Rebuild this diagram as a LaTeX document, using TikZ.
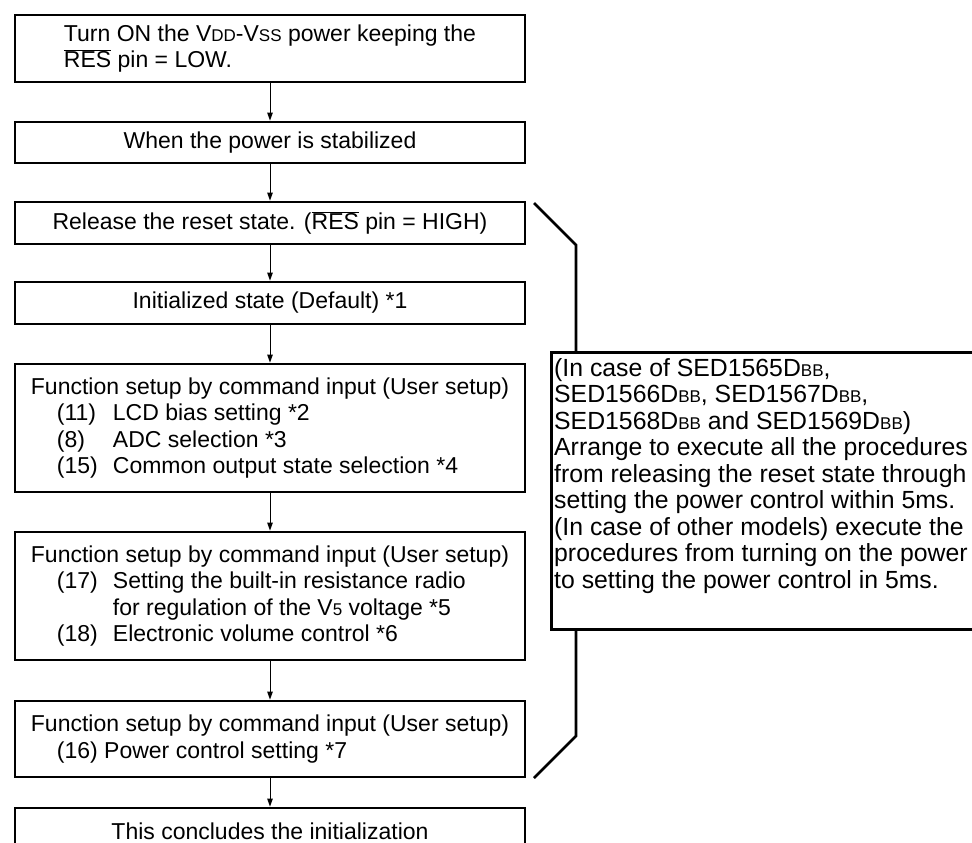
\documentclass[tikz,border=0pt]{standalone}
\usepackage{fontspec}
\setmainfont{Liberation Sans}
\usetikzlibrary{arrows.meta,positioning}

% small capitals used for the subscripts (VDD, DBB, V5)
\newcommand{\sm}[1]{{\fontsize{17}{17}\selectfont #1}}
\newcommand{\resbar}{$\overline{\mbox{RES}}$}
% numbered item inside a setup box
\newcommand{\itm}[2]{\hspace*{26pt}\makebox[56pt][l]{#1}#2}

\begin{document}
\begin{tikzpicture}[x=1pt,y=-1pt,
            box/.style={
                draw,
                line width=2.8pt,
                minimum width=510pt,
                inner sep=0pt,
                align=left,
                font=\fontsize{23}{26.5}\selectfont
            },
            flow/.style={
                -{Triangle[length=8pt,width=5.5pt]},
                line width=1pt
            },
            brace/.style={
                line width=2.8pt
            },
            notebox/.style={
                draw,
                fill=white,
                line width=2.8pt,
                minimum width=435pt,
                minimum height=277pt,
                inner sep=0pt
            },
            notetext/.style={
                align=left,
                inner sep=0pt,
                font=\fontsize{24.8}{26.5}\selectfont
            }
        ]

            % Page size
            \useasboundingbox (0,0) rectangle (972,843);
            \clip (0,0) rectangle (972,843);

            % Flow column x position
            \def\xCol{270}

            % --- Flow boxes ---
            \node[box, minimum height=67pt] (turnon) at (\xCol,48.5)
                {Turn ON the V\sm{DD}-V\sm{SS} power keeping the\\ \resbar{} pin = LOW.};
            \node[box, minimum height=41pt] (stable) at (\xCol,142.5)
                {When the power is stabilized};
            \node[box, minimum height=42pt] (release) at (\xCol,223)
                {Release the reset state. (\resbar{} pin = HIGH)};
            \node[box, minimum height=42pt] (init) at (\xCol,303)
                {Initialized state (Default) *1};
            \node[box, minimum height=128pt] (setupa) at (\xCol,428)
                {Function setup by command input (User setup)\\
                 \itm{(11)}{LCD bias setting *2}\\
                 \itm{(8)}{ADC selection *3}\\
                 \itm{(15)}{Common output state selection *4}};
            \node[box, minimum height=128pt] (setupb) at (\xCol,596)
                {Function setup by command input (User setup)\\
                 \itm{(17)}{Setting the built-in resistance radio}\\
                 \itm{}{for regulation of the V\sm{5} voltage *5}\\
                 \itm{(18)}{Electronic volume control *6}};
            \node[box, minimum height=76pt] (setupc) at (\xCol,739)
                {Function setup by command input (User setup)\\
                 \hspace*{26pt}(16) Power control setting *7};
            \node[box, minimum height=46pt] (done) at (\xCol,831)
                {This concludes the initialization};

            % --- Arrows between boxes ---
            \foreach \a/\b in {turnon/stable,stable/release,release/init,init/setupa,setupa/setupb,setupb/setupc,setupc/done} {
                \draw[flow] (\a.south) -- (\b.north);
            }

            % --- Bracket from reset release to power control ---
            \coordinate (brtop) at (534,203);
            \coordinate (brbend) at (576,245);
            \coordinate (brknee) at (576,736);
            \coordinate (brend) at (534,778);
            \draw[brace] (brtop) -- (brbend) -- (brknee) -- (brend);

            % --- Timing note ---
            \node[notebox, anchor=north west] (note) at (550,351) {};
            \node[notetext, anchor=north west] (notetext) at ([xshift=4pt,yshift=-7pt]note.north west)
                {(In case of SED1565D\sm{BB},\\
                 SED1566D\sm{BB}, SED1567D\sm{BB},\\
                 SED1568D\sm{BB} and SED1569D\sm{BB})\\
                 Arrange to execute all the procedures\\
                 from releasing the reset state through\\
                 setting the power control within 5ms.\\
                 (In case of other models) execute the\\
                 procedures from turning on the power\\
                 to setting the power control in 5ms.};

        \end{tikzpicture}
\end{document}
